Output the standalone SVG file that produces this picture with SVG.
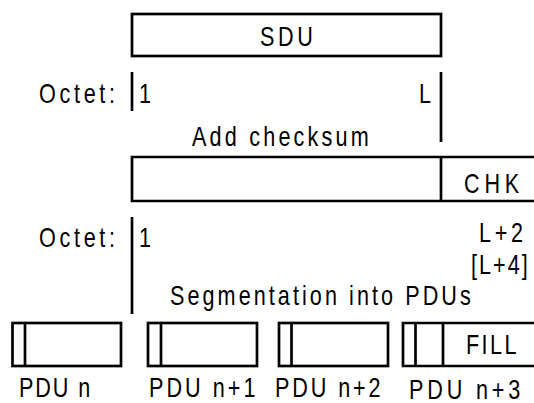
<svg xmlns="http://www.w3.org/2000/svg" width="534" height="403" viewBox="0 0 534 403">
<style>
.b{fill:none;stroke:#000;stroke-width:2.7}
.l{stroke:#000;stroke-width:2.7;fill:none}
text{font-family:"Liberation Sans",Arial,sans-serif;font-size:27px;fill:#000}
</style>
<rect width="534" height="403" fill="#fff"/>
<g id="sdu">
<rect class="b" x="132" y="14" width="309" height="42"/>
<text transform="translate(260,46) scale(0.8,1)" textLength="66" lengthAdjust="spacing">SDU</text>
</g>
<g id="octet1">
<text transform="translate(39,103) scale(0.8,1)" textLength="95" lengthAdjust="spacing">Octet:</text>
<text transform="translate(139,103) scale(0.8,1)">1</text>
<text transform="translate(419,103) scale(0.8,1)">L</text>
</g>
<g id="add-checksum">
<text transform="translate(192,146) scale(0.8,1)" textLength="221" lengthAdjust="spacing">Add checksum</text>
</g>
<g id="sdu-chk">
<path class="l" d="M540,157 H132 V201 H540 M441,157 V201"/>
<text transform="translate(464,192.5) scale(0.8,1)" textLength="69" lengthAdjust="spacing">CHK</text>
</g>
<g id="octet2">
<text transform="translate(39,247) scale(0.8,1)" textLength="95" lengthAdjust="spacing">Octet:</text>
<text transform="translate(139,247) scale(0.8,1)">1</text>
<text transform="translate(479,242) scale(0.8,1)" textLength="55" lengthAdjust="spacing">L+2</text>
<text transform="translate(471,274) scale(0.8,1)" textLength="71" lengthAdjust="spacing">[L+4]</text>
</g>
<g id="segmentation">
<text transform="translate(170,305) scale(0.8,1)" textLength="376" lengthAdjust="spacing">Segmentation into PDUs</text>
</g>
<g id="pdu-n">
<rect class="b" x="12.5" y="323" width="108.5" height="43"/>
<line class="l" x1="25" y1="323" x2="25" y2="366"/>
<text transform="translate(19,397) scale(0.8,1)" textLength="89" lengthAdjust="spacing">PDU n</text>
</g>
<g id="pdu-n1">
<rect class="b" x="148" y="323" width="109" height="43"/>
<line class="l" x1="161" y1="323" x2="161" y2="366"/>
<text transform="translate(149,397) scale(0.8,1)" textLength="133" lengthAdjust="spacing">PDU n+1</text>
</g>
<g id="pdu-n2">
<rect class="b" x="279" y="323" width="109" height="43"/>
<line class="l" x1="291.5" y1="323" x2="291.5" y2="366"/>
<text transform="translate(275,397) scale(0.8,1)" textLength="132" lengthAdjust="spacing">PDU n+2</text>
</g>
<g id="pdu-n3">
<path class="l" d="M540,323 H403 V366 H540 M415.5,323 V366 M443,323 V366"/>
<text transform="translate(466,354) scale(0.8,1)" textLength="63" lengthAdjust="spacing">FILL</text>
<text transform="translate(409,399) scale(0.8,1)" textLength="139" lengthAdjust="spacing">PDU n+3</text>
</g>
<g id="connectors">
<line class="l" x1="132" y1="72" x2="132" y2="111"/>
<line class="l" x1="441" y1="72" x2="441" y2="142"/>
<line class="l" x1="132" y1="217" x2="132" y2="314"/>
</g>
</svg>
